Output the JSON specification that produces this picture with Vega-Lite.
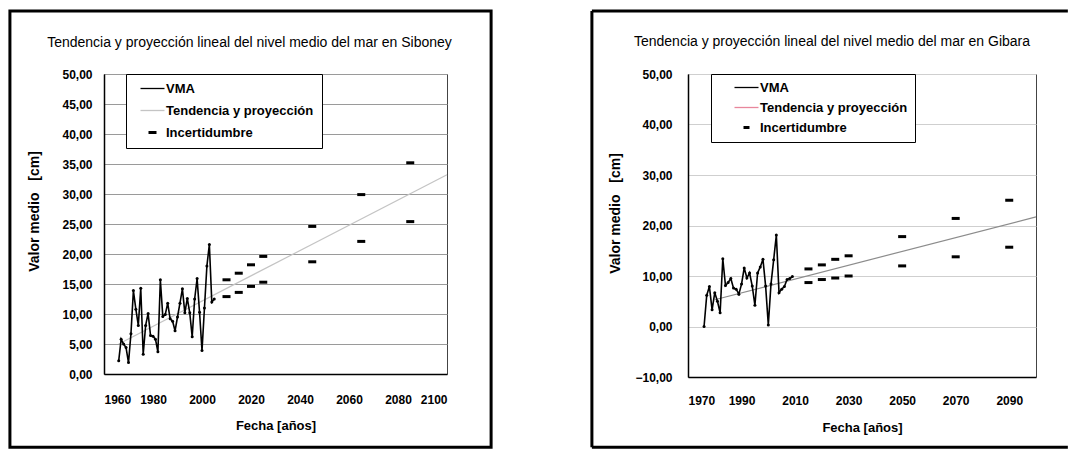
{
  "$schema": "https://vega.github.io/schema/vega-lite/v6.json",
  "padding": {"left": 7, "top": 8, "right": 0, "bottom": 0},
  "background": "white",
  "spacing": 241,
  "bounds": "flush",
  "resolve": {"scale": {"color": "independent"}, "legend": {"color": "independent"}},
  "datasets": {
    "siboney_vma": [
      {"anio": 1966, "valor": 2.2}, {"anio": 1967, "valor": 5.8}, {"anio": 1968, "valor": 5.0}, {"anio": 1969, "valor": 4.4},
      {"anio": 1970, "valor": 1.9}, {"anio": 1971, "valor": 6.7}, {"anio": 1972, "valor": 13.9}, {"anio": 1973, "valor": 10.8},
      {"anio": 1974, "valor": 8.1}, {"anio": 1975, "valor": 14.3}, {"anio": 1976, "valor": 3.3}, {"anio": 1977, "valor": 8.1},
      {"anio": 1978, "valor": 10.1}, {"anio": 1979, "valor": 6.4}, {"anio": 1980, "valor": 6.3}, {"anio": 1981, "valor": 5.8},
      {"anio": 1982, "valor": 3.7}, {"anio": 1983, "valor": 15.7}, {"anio": 1984, "valor": 9.6}, {"anio": 1985, "valor": 9.9},
      {"anio": 1986, "valor": 11.8}, {"anio": 1987, "valor": 9.2}, {"anio": 1988, "valor": 8.8}, {"anio": 1989, "valor": 7.2},
      {"anio": 1990, "valor": 9.5}, {"anio": 1991, "valor": 11.8}, {"anio": 1992, "valor": 14.2}, {"anio": 1993, "valor": 10.2},
      {"anio": 1994, "valor": 12.6}, {"anio": 1995, "valor": 10.2}, {"anio": 1996, "valor": 6.2}, {"anio": 1997, "valor": 12.5},
      {"anio": 1998, "valor": 15.9}, {"anio": 1999, "valor": 10.3}, {"anio": 2000, "valor": 3.9}, {"anio": 2001, "valor": 11.0},
      {"anio": 2002, "valor": 18.0}, {"anio": 2003, "valor": 21.6}, {"anio": 2004, "valor": 12.0}, {"anio": 2005, "valor": 12.5}
    ],
    "siboney_trend": [
      {"anio": 1966, "valor": 5.0}, {"anio": 2100, "valor": 33.2}
    ],
    "siboney_incert": [
      {"anio": 2010, "valor": 15.7}, {"anio": 2010, "valor": 12.9},
      {"anio": 2015, "valor": 16.8}, {"anio": 2015, "valor": 13.6},
      {"anio": 2020, "valor": 18.2}, {"anio": 2020, "valor": 14.6},
      {"anio": 2025, "valor": 19.6}, {"anio": 2025, "valor": 15.3},
      {"anio": 2045, "valor": 24.6}, {"anio": 2045, "valor": 18.7},
      {"anio": 2065, "valor": 29.9}, {"anio": 2065, "valor": 22.1},
      {"anio": 2085, "valor": 35.2}, {"anio": 2085, "valor": 25.4}
    ],
    "gibara_vma": [
      {"anio": 1976, "valor": 0.0}, {"anio": 1977, "valor": 6.2}, {"anio": 1978, "valor": 7.9}, {"anio": 1979, "valor": 3.3},
      {"anio": 1980, "valor": 6.7}, {"anio": 1981, "valor": 5.0}, {"anio": 1982, "valor": 2.7}, {"anio": 1983, "valor": 13.4},
      {"anio": 1984, "valor": 8.1}, {"anio": 1985, "valor": 8.7}, {"anio": 1986, "valor": 9.5}, {"anio": 1987, "valor": 7.6},
      {"anio": 1988, "valor": 7.4}, {"anio": 1989, "valor": 6.4}, {"anio": 1990, "valor": 8.4}, {"anio": 1991, "valor": 11.6},
      {"anio": 1992, "valor": 9.6}, {"anio": 1993, "valor": 10.6}, {"anio": 1994, "valor": 8.0}, {"anio": 1995, "valor": 4.2},
      {"anio": 1996, "valor": 10.6}, {"anio": 1997, "valor": 11.8}, {"anio": 1998, "valor": 13.3}, {"anio": 1999, "valor": 8.0},
      {"anio": 2000, "valor": 0.3}, {"anio": 2001, "valor": 8.4}, {"anio": 2002, "valor": 13.2}, {"anio": 2003, "valor": 18.1},
      {"anio": 2004, "valor": 6.7}, {"anio": 2005, "valor": 7.4}, {"anio": 2006, "valor": 7.9}, {"anio": 2007, "valor": 9.3},
      {"anio": 2008, "valor": 9.5}, {"anio": 2009, "valor": 9.9}
    ],
    "gibara_trend": [
      {"anio": 1980, "valor": 5.3}, {"anio": 2100, "valor": 21.7}
    ],
    "gibara_incert": [
      {"anio": 2015, "valor": 11.4}, {"anio": 2015, "valor": 8.7},
      {"anio": 2020, "valor": 12.2}, {"anio": 2020, "valor": 9.3},
      {"anio": 2025, "valor": 13.3}, {"anio": 2025, "valor": 9.6},
      {"anio": 2030, "valor": 14.0}, {"anio": 2030, "valor": 10.0},
      {"anio": 2050, "valor": 17.8}, {"anio": 2050, "valor": 12.0},
      {"anio": 2070, "valor": 21.4}, {"anio": 2070, "valor": 13.8},
      {"anio": 2090, "valor": 25.0}, {"anio": 2090, "valor": 15.7}
    ]
  },
  "hconcat": [
    {
      "width": 343,
      "height": 300,
      "title": {"text": "Tendencia y proyección lineal del nivel medio del mar en Siboney", "dx": -26},
      "layer": [
        {
          "data": {"values": [{}]},
          "mark": {"type": "rect", "filled": false, "stroke": "black", "strokeWidth": 3, "clip": false},
          "encoding": {
            "x": {
              "datum": 1921.6, "type": "quantitative",
              "scale": {"domain": [1960, 2100], "nice": false, "zero": false},
              "axis": {"title": "Fecha [años]", "values": [1960, 1980, 2000, 2020, 2040, 2060, 2080, 2100], "tickCount": 20, "format": "d", "grid": false, "labelPadding": 20, "titlePadding": 14}
            },
            "x2": {"datum": 2118.0},
            "y": {
              "datum": 60.5, "type": "quantitative",
              "scale": {"domain": [0, 50], "nice": false, "zero": false},
              "axis": {"title": "Valor medio\u00a0\u00a0 [cm]", "titleFontSize": 14, "titleY": 137, "values": [0, 5, 10, 15, 20, 25, 30, 35, 40, 45, 50], "tickCount": 20, "labelExpr": "replace(format(datum.value, '.2f'), '.', ',')", "grid": true, "gridColor": "#9a9a9a", "gridWidth": 1, "labelPadding": 12, "titlePadding": 20, "labelOverlap": false}
            },
            "y2": {"datum": -12.2}
          }
        },
        {
          "data": {"name": "siboney_trend"},
          "mark": {"type": "line", "strokeWidth": 1.2, "color": "#c4c4c4"},
          "encoding": {
            "x": {"field": "anio", "type": "quantitative"},
            "y": {"field": "valor", "type": "quantitative"}
          }
        },
        {
          "data": {"name": "siboney_vma"},
          "mark": {"type": "line", "strokeWidth": 1.6, "point": {"filled": true, "size": 9}},
          "encoding": {
            "x": {"field": "anio", "type": "quantitative"},
            "y": {"field": "valor", "type": "quantitative"},
            "color": {
              "datum": "VMA", "type": "nominal",
              "scale": {"domain": ["VMA", "Tendencia y proyección", "Incertidumbre"], "range": ["black", "#c4c4c4", "black"]},
              "legend": {
                "title": null, "orient": "none", "legendX": 22, "legendY": 0,
                "strokeColor": "black", "fillColor": "white", "padding": 8,
                "symbolSize": 400, "symbolOffset": 12, "rowPadding": 8, "labelOffset": 7,
                "labelFont": "Liberation Sans", "labelFontSize": 13, "labelFontWeight": "bold", "labelColor": "black",
                "encode": {"symbols": {"update": {
                  "shape": {"signal": "datum.value === 'Incertidumbre' ? 'M-0.4,0H0.4' : 'M-1.2,0H1.2'"},
                  "strokeWidth": {"signal": "datum.value === 'Incertidumbre' ? 3 : 1.3"},
                  "fill": {"value": "transparent"}
                }}}
              }
            }
          }
        },
        {
          "data": {"name": "siboney_incert"},
          "mark": {"type": "tick", "orient": "horizontal", "size": 8, "thickness": 3, "opacity": 1},
          "encoding": {
            "x": {"field": "anio", "type": "quantitative"},
            "y": {"field": "valor", "type": "quantitative"},
            "color": {"datum": "Incertidumbre", "type": "nominal"}
          }
        }
      ]
    },
    {
      "width": 348,
      "height": 303,
      "title": {"text": "Tendencia y proyección lineal del nivel medio del mar en Gibara", "dx": -30},
      "layer": [
        {
          "data": {"values": [{}]},
          "mark": {"type": "rule", "stroke": "black", "strokeWidth": 3, "clip": false},
          "encoding": {
            "x": {
              "datum": 1934.1, "type": "quantitative",
              "scale": {"domain": [1970, 2100], "nice": false, "zero": false},
              "axis": {"title": "Fecha [años]", "values": [1970, 1990, 2010, 2030, 2050, 2070, 2090], "tickCount": 20, "format": "d", "grid": false, "labelPadding": 18, "titlePadding": 15}
            },
            "y": {
              "datum": 62.5, "type": "quantitative",
              "scale": {"domain": [-10, 50], "nice": false, "zero": false},
              "axis": {"title": "Valor medio\u00a0\u00a0 [cm]", "titleFontSize": 14, "titleY": 139, "values": [-10, 0, 10, 20, 30, 40, 50], "tickCount": 20, "labelExpr": "replace(format(datum.value, '.2f'), '.', ',')", "grid": true, "gridColor": "#cfcfcf", "gridWidth": 1, "labelPadding": 16, "titlePadding": 12, "labelOverlap": false}
            },
            "y2": {"datum": -23.9}
          }
        },
        {
          "data": {"values": [{}]},
          "mark": {"type": "rule", "stroke": "black", "strokeWidth": 3, "clip": false},
          "encoding": {
            "x": {"datum": 1934.1, "type": "quantitative"},
            "x2": {"datum": 2111.9},
            "y": {"datum": 62.5, "type": "quantitative"}
          }
        },
        {
          "data": {"values": [{}]},
          "mark": {"type": "rule", "stroke": "black", "strokeWidth": 3, "clip": false},
          "encoding": {
            "x": {"datum": 1934.1, "type": "quantitative"},
            "x2": {"datum": 2111.9},
            "y": {"datum": -23.9, "type": "quantitative"}
          }
        },
        {
          "data": {"name": "gibara_trend"},
          "mark": {"type": "line", "strokeWidth": 1.2, "color": "#8c8c8c"},
          "encoding": {
            "x": {"field": "anio", "type": "quantitative"},
            "y": {"field": "valor", "type": "quantitative"}
          }
        },
        {
          "data": {"name": "gibara_vma"},
          "mark": {"type": "line", "strokeWidth": 1.6, "point": {"filled": true, "size": 9}},
          "encoding": {
            "x": {"field": "anio", "type": "quantitative"},
            "y": {"field": "valor", "type": "quantitative"},
            "color": {
              "datum": "VMA", "type": "nominal",
              "scale": {"domain": ["VMA", "Tendencia y proyección", "Incertidumbre"], "range": ["black", "#e8879c", "black"]},
              "legend": {
                "title": null, "orient": "none", "legendX": 23, "legendY": 0,
                "strokeColor": "black", "fillColor": "white", "padding": 7,
                "symbolSize": 400, "symbolOffset": 22, "rowPadding": 6, "labelOffset": 7,
                "labelFont": "Liberation Sans", "labelFontSize": 13, "labelFontWeight": "bold", "labelColor": "black",
                "encode": {"symbols": {"update": {
                  "shape": {"signal": "datum.value === 'Incertidumbre' ? 'M-0.3,0H0.3' : 'M-1.2,0H1.2'"},
                  "strokeWidth": {"signal": "datum.value === 'Incertidumbre' ? 3 : 1.3"},
                  "fill": {"value": "transparent"}
                }}}
              }
            }
          }
        },
        {
          "data": {"name": "gibara_incert"},
          "mark": {"type": "tick", "orient": "horizontal", "size": 8, "thickness": 3, "opacity": 1},
          "encoding": {
            "x": {"field": "anio", "type": "quantitative"},
            "y": {"field": "valor", "type": "quantitative"},
            "color": {"datum": "Incertidumbre", "type": "nominal"}
          }
        }
      ]
    }
  ],
  "config": {
    "font": "Liberation Sans",
    "view": {"stroke": "#444", "strokeWidth": 1},
    "axis": {
      "labelFont": "Liberation Sans", "labelFontSize": 12, "labelFontWeight": "bold", "labelColor": "black",
      "titleFont": "Liberation Sans", "titleFontSize": 13, "titleFontWeight": "bold", "titleColor": "black",
      "ticks": false, "domainColor": "black", "domainWidth": 1.5
    },
    "title": {"font": "Liberation Sans", "fontSize": 14, "fontWeight": "normal", "color": "black", "anchor": "middle", "offset": -40}
  }
}
